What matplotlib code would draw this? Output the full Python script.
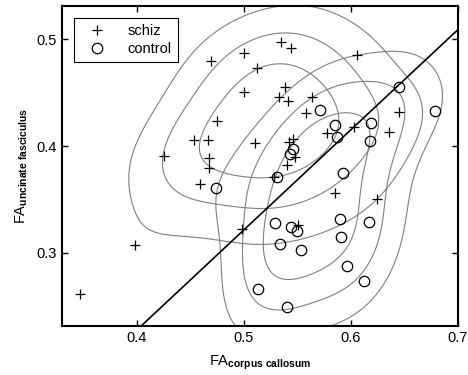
import numpy as np
import matplotlib
matplotlib.use('Agg')
import matplotlib.pyplot as plt

plt.rcParams['font.family'] = ['Liberation Sans', 'DejaVu Sans']
plt.rcParams['mathtext.fontset'] = 'custom'
plt.rcParams['mathtext.rm'] = 'Liberation Sans'
plt.rcParams['mathtext.bf'] = 'Liberation Sans:bold'

# schiz group (FA corpus callosum, FA uncinate fasciculus)
schiz_x = [0.347, 0.398, 0.425, 0.453, 0.466, 0.475, 0.467, 0.467, 0.459, 0.469,
           0.500, 0.535, 0.544, 0.512, 0.500, 0.538, 0.533, 0.541, 0.564, 0.558,
           0.606, 0.510, 0.546, 0.542, 0.548, 0.540, 0.528, 0.578, 0.603, 0.645,
           0.636, 0.585, 0.624, 0.498, 0.551]
schiz_y = [0.261, 0.307, 0.391, 0.406, 0.406, 0.423, 0.389, 0.379, 0.364, 0.480,
           0.487, 0.497, 0.492, 0.473, 0.451, 0.455, 0.446, 0.442, 0.446, 0.431,
           0.485, 0.403, 0.407, 0.404, 0.390, 0.382, 0.371, 0.412, 0.418, 0.432,
           0.413, 0.356, 0.350, 0.322, 0.326]

# control group
ctrl_x = [0.571, 0.585, 0.587, 0.619, 0.618, 0.645, 0.679, 0.546, 0.543, 0.531,
          0.593, 0.474, 0.529, 0.544, 0.550, 0.534, 0.553, 0.590, 0.591, 0.617,
          0.596, 0.612, 0.513, 0.540]
ctrl_y = [0.434, 0.420, 0.408, 0.422, 0.405, 0.455, 0.433, 0.397, 0.393, 0.371,
          0.375, 0.361, 0.328, 0.324, 0.320, 0.308, 0.303, 0.332, 0.315, 0.329,
          0.288, 0.274, 0.266, 0.249]

# separating line end points
line_x = [0.4045, 0.70]
line_y = [0.232, 0.509]

contour_levels = [0.22, 0.45, 0.72]   # fraction of peak density
bw_scale = 1.25


def kde_grid(x, y, gx, gy):
    data = np.vstack([x, y])
    n = data.shape[1]
    factor = n ** (-1.0 / 6) * bw_scale
    cov = np.cov(data) * factor ** 2
    inv = np.linalg.inv(cov)
    pts = np.vstack([gx.ravel(), gy.ravel()])
    dens = np.zeros(pts.shape[1])
    for i in range(n):
        d = pts - data[:, i:i + 1]
        dens += np.exp(-0.5 * np.sum(d * (inv @ d), axis=0))
    return dens.reshape(gx.shape)


fig = plt.figure(figsize=(4.68, 3.75), dpi=100)
ax = fig.add_axes([0.1325, 0.1307, 0.846, 0.853])

gx, gy = np.meshgrid(np.linspace(0.25, 0.8, 300), np.linspace(0.15, 0.6, 300))
for xs, ys in [(schiz_x, schiz_y), (ctrl_x, ctrl_y)]:
    z = kde_grid(np.array(xs), np.array(ys), gx, gy)
    ax.contour(gx, gy, z, levels=[l * z.max() for l in contour_levels],
               colors='#808080', linewidths=0.8)

ax.plot(line_x, line_y, color='black', lw=1.2)
ax.plot(schiz_x, schiz_y, '+', color='black', ms=7, mew=0.9, label='schiz')
ax.plot(ctrl_x, ctrl_y, 'o', mfc='none', mec='black', ms=7.5, mew=0.9, label='control')

ax.set_xlim(0.33, 0.70)
ax.set_ylim(0.2315, 0.531)
ax.set_xticks([0.4, 0.5, 0.6, 0.7])
ax.set_yticks([0.3, 0.4, 0.5])
ax.set_xticklabels(['0.4', '0.5', '0.6', '0.7'])
ax.set_yticklabels(['0.3', '0.4', '0.5'])
ax.tick_params(direction='in', top=True, right=True, length=4, width=1, labelsize=10.5)
for s in ax.spines.values():
    s.set_linewidth(1.5)

ax.set_xlabel(r'FA$_{\mathbf{corpus\ callosum}}$', fontsize=10.5, labelpad=6)
ax.set_ylabel(r'FA$_{\mathbf{uncinate\ fasciculus}}$', fontsize=10.5, labelpad=5)

leg = ax.legend(loc='upper left', fontsize=10.5, fancybox=False, framealpha=1,
                edgecolor='black', borderaxespad=0.8, handlelength=2.4,
                handletextpad=0.9, labelspacing=0.3, borderpad=0.4)
leg.get_frame().set_linewidth(0.8)

fig.savefig('out.png', dpi=100)
